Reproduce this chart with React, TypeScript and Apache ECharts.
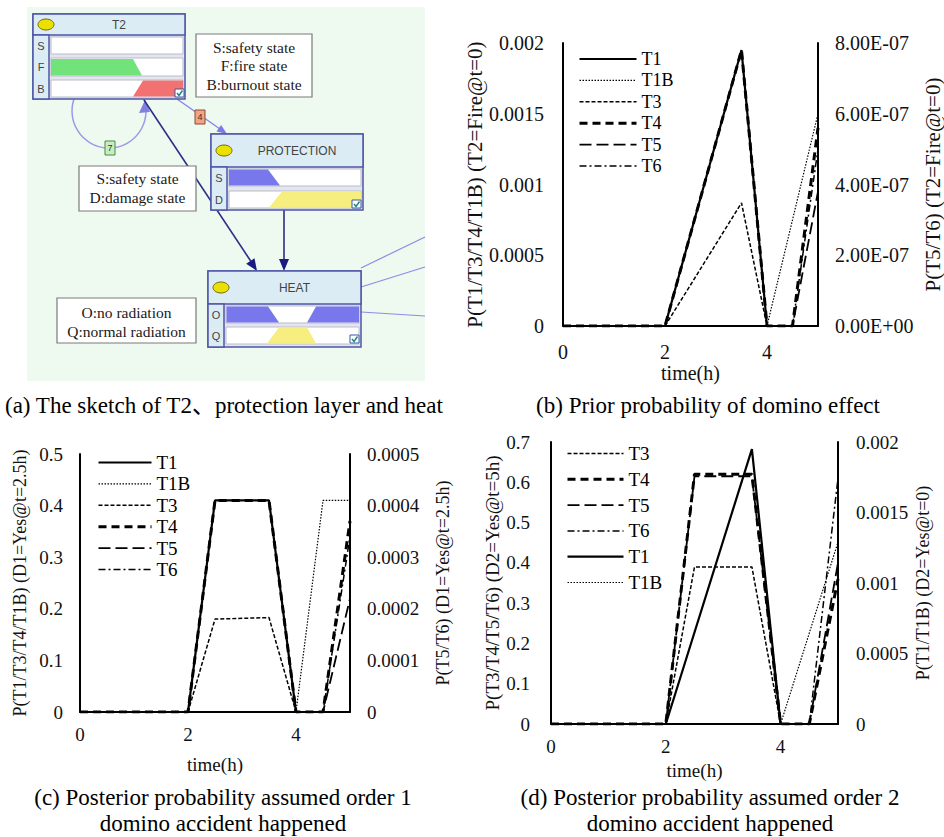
import React, { useEffect, useRef } from "react";
import * as echarts from "echarts";

type P = [number, number][];

// ---------- (b) Prior probability of domino effect ----------
const bT1: P = [[0, 0], [2, 0], [3.5, 0.00195], [4, 0], [5, 0]];
const bT1B: P = [[0, 0], [4, 0], [5, 0.0015]];
const bT3: P = [[0, 0], [2, 0], [3.5, 0.00087], [4, 0], [5, 0]];
const bT4: P = [[0, 0], [2, 0], [3.5, 0.00195], [4, 0], [4.5, 0], [5, 0.0014]];
const bT5: P = [[0, 0], [4.5, 0], [5, 3.8e-7]];
const bT6: P = [[0, 0], [4.5, 0], [5, 5.0e-7]];

// ---------- (c) Posterior, order 1 ----------
const cT1: P = [[0, 0], [2, 0], [2.5, 0.41], [3.5, 0.41], [4, 0], [5, 0]];
const cT1B: P = [[0, 0], [4, 0], [4.5, 0.41], [5, 0.41]];
const cT3: P = [[0, 0], [2, 0], [2.5, 0.18], [3.5, 0.183], [4, 0], [5, 0]];
const cT4: P = [[0, 0], [2, 0], [2.5, 0.41], [3.5, 0.41], [4, 0], [4.5, 0], [5, 0.37]];
const cT5: P = [[0, 0], [4.5, 0], [5, 0.00022]];
const cT6: P = [[0, 0], [4.5, 0], [5, 0.00034]];

// ---------- (d) Posterior, order 2 ----------
const dT3: P = [[0, 0], [2, 0], [2.5, 0.39], [3.5, 0.39], [4, 0], [5, 0]];
const dT4: P = [[0, 0], [2, 0], [2.5, 0.62], [3.5, 0.62], [4, 0], [4.5, 0], [5, 0.36]];
const dT5: P = [[0, 0], [2, 0], [2.5, 0.615], [3.5, 0.615], [4, 0], [4.5, 0], [5, 0.4]];
const dT6: P = [[0, 0], [4.5, 0], [5, 0.61]];
const dT1: P = [[0, 0], [2, 0], [3.5, 0.00195], [4, 0], [5, 0]];
const dT1B: P = [[0, 0], [4, 0], [5, 0.00129]];

const legendB = ["T1", "T1B", "T3", "T4", "T5", "T6"];
const legendC = ["T1", "T1B", "T3", "T4", "T5", "T6"];
const legendD = ["T3", "T4", "T5", "T6", "T1", "T1B"];

const xTicks = { min: 0, max: 5, interval: 2 };

const SERIF = "'Liberation Serif', 'Times New Roman', 'Noto Sans CJK SC', serif";
const SANS = "'Liberation Sans', Arial, sans-serif";

const styles: Record<string, any> = {
  T1: { color: "#000", width: 2.2, type: "solid" },
  T1B: { color: "#000", width: 1.2, type: [1.5, 1.5] },
  T3: { color: "#000", width: 1.5, type: [4, 2] },
  T4: { color: "#000", width: 3, type: [8, 5] },
  T5: { color: "#000", width: 1.8, type: [12, 5] },
  T6: { color: "#000", width: 1.5, type: [7, 3, 2, 3] },
};

const sci = (v: number) => {
  if (v === 0) return "0.00E+00";
  const [m, e] = v.toExponential(2).split("e");
  const n = parseInt(e, 10);
  return m + "E" + (n < 0 ? "-" : "+") + String(Math.abs(n)).padStart(2, "0");
};
const dec = (v: number) => String(parseFloat(v.toPrecision(6)));

function line(name: string, data: P, xi: number, yi: number) {
  return {
    type: "line",
    name,
    data,
    xAxisIndex: xi,
    yAxisIndex: yi,
    symbol: "none",
    itemStyle: { color: "#000" },
    lineStyle: styles[name],
    z: name === "T1" ? 3 : name === "T4" ? 4 : 2,
  };
}

function xAx(grid: number, fs: number, margin: number, nameGap: number) {
  return {
    type: "value",
    gridIndex: grid,
    ...xTicks,
    name: "time(h)",
    nameLocation: "middle",
    nameGap,
    nameTextStyle: { fontFamily: SERIF, fontSize: fs, color: "#111" },
    axisLine: { show: true, onZero: false, lineStyle: { color: "#000", width: 2 } },
    axisTick: { show: false },
    splitLine: { show: false },
    axisLabel: { fontFamily: SERIF, fontSize: fs, color: "#111", margin, showMaxLabel: false },
  };
}

function yAx(
  grid: number,
  pos: "left" | "right",
  min: number,
  max: number,
  interval: number,
  fmt: (v: number) => string,
  name: string,
  fs: number,
  nfs: number,
  margin: number,
  nameGap: number
) {
  return {
    type: "value",
    gridIndex: grid,
    position: pos,
    min,
    max,
    interval,
    name,
    nameLocation: "middle",
    nameRotate: 90,
    nameGap,
    nameTextStyle: { fontFamily: SERIF, fontSize: nfs, color: "#111" },
    axisLine: { show: true, lineStyle: { color: "#000", width: 2 } },
    axisTick: { show: false },
    splitLine: { show: false },
    axisLabel: { fontFamily: SERIF, fontSize: fs, color: "#111", margin, formatter: fmt },
  };
}

function legend(data: string[], left: number, top: number, w: number, gap: number, fs: number) {
  return {
    data,
    orient: "vertical",
    left,
    top,
    itemWidth: w,
    itemHeight: 16,
    itemGap: gap,
    selectedMode: false,
    padding: 0,
    itemStyle: { color: "transparent", borderWidth: 0, opacity: 0 },
    lineStyle: { width: "inherit" },
    textStyle: { fontFamily: SERIF, fontSize: fs, color: "#000", lineHeight: 16 },
  };
}

// ---------- panel (a) drawing helpers ----------
const BORDER = "#4f56a6";
const HEAD = "#dbecf4";

function node(x: number, y: number, w: number, h: number, hh: number, title: string, letters: string[], rowYs: [number, number][]) {
  const els: any[] = [];
  els.push({ type: "rect", shape: { x, y, width: w, height: h }, style: { fill: "#e3e6ee", stroke: BORDER, lineWidth: 1.5 } });
  els.push({ type: "rect", shape: { x, y, width: w, height: hh }, style: { fill: HEAD, stroke: BORDER, lineWidth: 1.5 } });
  els.push({ type: "rect", shape: { x, y: y + hh, width: 16, height: h - hh }, style: { fill: HEAD, stroke: BORDER, lineWidth: 1.5 } });
  els.push({ type: "ellipse", shape: { cx: x + 13, cy: y + hh / 2, rx: 8, ry: 5.5 }, style: { fill: "#ece000", stroke: "#6a6a10", lineWidth: 1 } });
  els.push({
    type: "text",
    x: x + w / 2 + 10,
    y: y + hh / 2,
    style: { text: title, font: `12px ${SANS}`, fill: "#444", align: "center", verticalAlign: "middle" },
  });
  rowYs.forEach(([y0, y1], i) => {
    els.push({ type: "rect", shape: { x: x + 18, y: y0, width: w - 20, height: y1 - y0 }, style: { fill: "#fff", stroke: "#b9bdc9", lineWidth: 1 } });
    els.push({
      type: "text",
      x: x + 8,
      y: (y0 + y1) / 2,
      style: { text: letters[i], font: `11px ${SANS}`, fill: "#444", align: "center", verticalAlign: "middle" },
    });
  });
  return els;
}

function poly(points: number[][], fill: string) {
  return { type: "polygon", shape: { points }, style: { fill } };
}

function check(x: number, y: number) {
  return [
    { type: "rect", shape: { x, y, width: 9, height: 8 }, style: { fill: "#fff", stroke: "#3a5aa0", lineWidth: 1 } },
    { type: "polyline", shape: { points: [[x + 2, y + 4], [x + 4, y + 6.5], [x + 7.5, y + 1.5]] }, style: { stroke: "#1a8a8a", lineWidth: 1.5, fill: null } },
  ];
}

function noteBox(x: number, y: number, w: number, h: number, lines: string[], ys: number[]) {
  const els: any[] = [{ type: "rect", shape: { x, y, width: w, height: h }, style: { fill: "#fff", stroke: "#7a7a7a", lineWidth: 1.2 } }];
  lines.forEach((t, i) =>
    els.push({
      type: "text",
      x: x + w / 2,
      y: ys[i],
      style: { text: t, font: `15.5px ${SERIF}`, fill: "#1a1a1a", align: "center", verticalAlign: "middle" },
    })
  );
  return els;
}

function tag(cx: number, cy: number, t: string, fill: string, stroke: string) {
  return [
    { type: "rect", shape: { x: cx - 5, y: cy - 7, width: 10, height: 14 }, style: { fill, stroke, lineWidth: 1 } },
    { type: "text", x: cx, y: cy, style: { text: t, font: `9px ${SANS}`, fill: "#333", align: "center", verticalAlign: "middle" } },
  ];
}

function caption(x: number, y: number, t: string, align: string = "center") {
  return { type: "text", x, y, style: { text: t, font: `23px ${SERIF}`, fill: "#000", align, verticalAlign: "middle" } };
}

function buildGraphic() {
  const g: any[] = [];
  // background
  g.push({ type: "rect", shape: { x: 27, y: 7, width: 398, height: 374 }, style: { fill: "#eef9ef" } });
  // edges behind nodes
  g.push({ type: "circle", shape: { cx: 109, cy: 111, r: 37 }, style: { fill: null, stroke: "#9a9ae8", lineWidth: 1.5 } });
  g.push(poly([[145, 100], [139, 113], [150, 112]], "#8080e0"));
  g.push({ type: "line", shape: { x1: 177, y1: 99, x2: 220, y2: 129 }, style: { stroke: "#8a8ae6", lineWidth: 1.5 } });
  g.push(poly([[227, 134], [216.5, 131.5], [221.1, 124.9]], "#7a7ae6"));
  g.push({ type: "line", shape: { x1: 144, y1: 100, x2: 252, y2: 263 }, style: { stroke: "#2e2e88", lineWidth: 1.6 } });
  g.push(poly([[257, 271], [246.2, 263.8], [254.5, 258.2]], "#1a1a80"));
  g.push({ type: "line", shape: { x1: 284, y1: 210, x2: 284, y2: 262 }, style: { stroke: "#2e2e88", lineWidth: 1.6 } });
  g.push(poly([[284, 271], [279, 259], [289, 259]], "#1a1a80"));
  g.push({ type: "line", shape: { x1: 361, y1: 268, x2: 425, y2: 237 }, style: { stroke: "#8c8ce8", lineWidth: 1.2 } });
  g.push({ type: "line", shape: { x1: 361, y1: 287, x2: 425, y2: 267 }, style: { stroke: "#8c8ce8", lineWidth: 1.2 } });
  g.push({ type: "line", shape: { x1: 361, y1: 312, x2: 425, y2: 316 }, style: { stroke: "#8c8ce8", lineWidth: 1.2 } });
  g.push(...tag(200, 117, "4", "#f4a484", "#8a4a30"));
  g.push(...tag(110, 148, "7", "#c8eec0", "#4a8a4a"));

  // T2 node
  g.push(...node(33, 14, 152, 85, 21, "T2", ["S", "F", "B"], [[37, 54], [58, 76], [80, 97]]));
  g.push(poly([[51, 59], [133, 59], [142, 75.5], [51, 75.5]], "#72e27a"));
  g.push(poly([[143, 80.5], [183, 80.5], [183, 96.5], [133, 96.5]], "#f27272"));
  g.push(...check(175, 89));

  // PROTECTION node
  g.push(...node(211, 134, 152, 76, 33, "PROTECTION", ["S", "D"], [[169, 186], [191, 208]]));
  g.push(poly([[229, 169.5], [268, 169.5], [280, 185.5], [229, 185.5]], "#7878ec"));
  g.push(poly([[282, 191.5], [361, 191.5], [361, 207.5], [269, 207.5]], "#f6ee7e"));
  g.push(...check(352, 200));

  // HEAT node
  g.push(...node(208, 271, 153, 76, 33, "HEAT", ["O", "Q"], [[306, 323], [327, 344]]));
  g.push(poly([[226.5, 306.5], [268, 306.5], [279, 322.5], [226.5, 322.5]], "#7878ec"));
  g.push(poly([[316, 306.5], [359, 306.5], [359, 322.5], [307, 322.5]], "#7878ec"));
  g.push(poly([[279, 327.5], [307, 327.5], [316, 343.5], [267, 343.5]], "#f6ee7e"));
  g.push(...check(350, 335));

  // note boxes
  g.push(...noteBox(196, 34, 116, 63, ["S:safety state", "F:fire state", "B:burnout state"], [47, 65, 84]));
  g.push(...noteBox(79, 166, 117, 45, ["S:safety state", "D:damage state"], [178, 197]));
  g.push(...noteBox(57, 298, 139, 45, ["O:no radiation", "Q:normal radiation"], [312, 331]));

  // captions
  g.push(caption(5, 405, "(a) The sketch of T2、protection layer and heat", "left"));
  g.push(caption(708, 405, "(b) Prior probability of domino effect"));
  g.push(caption(223, 797, "(c) Posterior probability assumed order 1"));
  g.push(caption(223, 823, "domino accident happened"));
  g.push(caption(710, 797, "(d) Posterior probability assumed order 2"));
  g.push(caption(710, 823, "domino accident happened"));
  return g;
}

export default function App() {
  const ref = useRef<HTMLDivElement>(null);
  useEffect(() => {
    if (!ref.current) return;
    const chart = echarts.init(ref.current, null, { renderer: "svg" });
    const option: any = {
      animation: false,
      backgroundColor: "#fff",
      grid: [
        { left: 563, right: 944 - 821, top: 43, bottom: 837 - 326 },
        { left: 80, right: 944 - 350, top: 454, bottom: 837 - 712 },
        { left: 551, right: 944 - 838, top: 442, bottom: 837 - 724 },
      ],
      xAxis: [xAx(0, 20, 16, 34), xAx(1, 19, 13, 43), xAx(2, 19, 13, 37)],
      yAxis: [
        yAx(0, "left", 0, 0.002, 0.0005, dec, "P(T1/T3/T4/T1B) (T2=Fire@t=0)", 20, 21, 19, 72),
        yAx(0, "right", 0, 8e-7, 2e-7, sci, "P(T5/T6) (T2=Fire@t=0)", 20, 21, 17, 104),
        yAx(1, "left", 0, 0.5, 0.1, dec, "P(T1/T3/T4/T1B) (D1=Yes@t=2.5h)", 19, 18, 17, 51),
        yAx(1, "right", 0, 0.0005, 0.0001, dec, "P(T5/T6) (D1=Yes@t=2.5h)", 19, 18, 17, 84),
        yAx(2, "left", 0, 0.7, 0.1, dec, "P(T3/T4/T5/T6) (D2=Yes@t=5h)", 19, 19, 21, 46),
        yAx(2, "right", 0, 0.002, 0.0005, dec, "P(T1/T1B) (D2=Yes@t=0)", 19, 18, 18, 76),
      ],
      legend: [
        legend(legendB, 578, 50, 57, 3.4, 18),
        legend(legendC, 97, 453, 53, 2.4, 19),
        legend(legendD, 566, 444, 56, 6.8, 19),
      ],
      series: [
        line("T1", bT1, 0, 0),
        line("T1B", bT1B, 0, 0),
        line("T3", bT3, 0, 0),
        line("T4", bT4, 0, 0),
        line("T5", bT5, 0, 1),
        line("T6", bT6, 0, 1),
        line("T1", cT1, 1, 2),
        line("T1B", cT1B, 1, 2),
        line("T3", cT3, 1, 2),
        line("T4", cT4, 1, 2),
        line("T5", cT5, 1, 3),
        line("T6", cT6, 1, 3),
        line("T3", dT3, 2, 4),
        line("T4", dT4, 2, 4),
        line("T5", dT5, 2, 4),
        line("T6", dT6, 2, 4),
        line("T1", dT1, 2, 5),
        line("T1B", dT1B, 2, 5),
      ],
      graphic: buildGraphic(),
    };
    chart.setOption(option);
    return () => chart.dispose();
  }, []);
  return (
    <div
      ref={ref}
      style={{ position: "absolute", left: 0, top: 0, width: 944, height: 837, background: "#fff" }}
    />
  );
}
